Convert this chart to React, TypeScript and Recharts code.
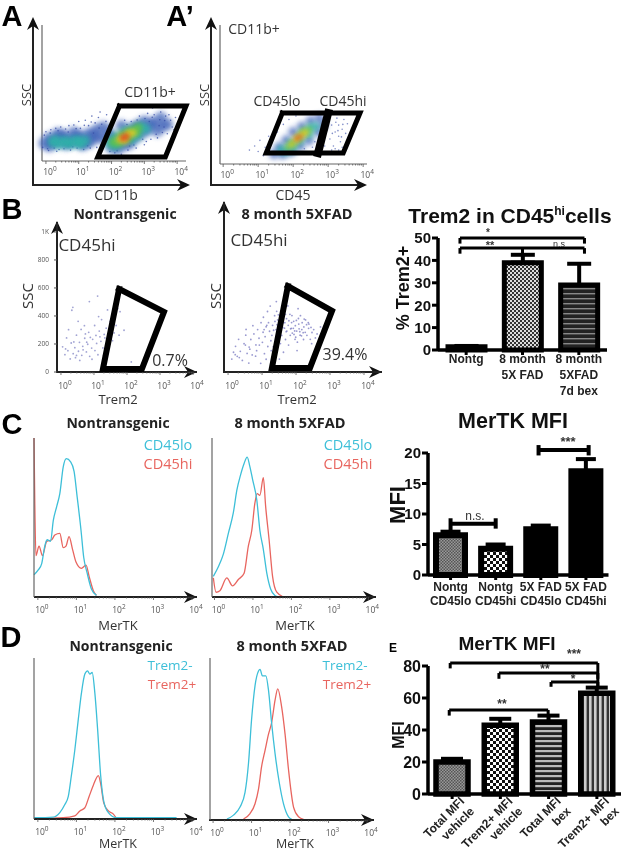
import React from 'react';
import { ComposedChart, ScatterChart, Scatter, Line, Bar, Cell, ErrorBar, XAxis, YAxis, ReferenceLine } from 'recharts';

const SANS = '"Liberation Sans", Arial, sans-serif';
const SOFT = '"Open Sans", sans-serif';
const CYAN = '#3dbfd8';
const RED = '#e8655f';

// flow axes are in decades (10^n), minor ticks included
const logTicks = [0, 0.3, 0.48, 0.6, 0.7, 0.78, 0.85, 0.9, 0.95, 1, 1.3, 1.48, 1.6, 1.7, 1.78, 1.85, 1.9, 1.95, 2, 2.3, 2.48, 2.6, 2.7, 2.78, 2.85, 2.9, 2.95, 3, 3.3, 3.48, 3.6, 3.7, 3.78, 3.85, 3.9, 3.95, 4];

// panel A
const aBase = [[-0.05,130],[0.1,170],[0.1,110],[0.35,150],[0.35,200],[0.6,125],[0.6,175],[0.85,150],[0.85,210],[1.1,120],[1.1,170],[1.3,200],[1.35,145],[1.55,175],[1.55,230],[1.75,170],[1.75,250],[1.9,210],[2,100],[2.2,90],[2.2,150],[2.4,120],[2.5,220],[2.7,170],[2.7,250],[2.9,200],[3,290],[3.1,230],[3.3,280],[3.4,220],[3.5,320],[3.7,270],[2,170],[2.3,260],[0.22,135],[0.48,190],[0.73,140],[0.97,185],[1.22,135],[1.45,190],[2.85,260],[3.2,270],[2.55,130],[3.55,260]];
const aTeal = [[0.2,140],[0.4,125],[0.55,145],[0.75,130],[0.9,150],[1.05,130],[1.2,150],[1.95,130],[2.1,115],[2.1,175],[2.3,140],[2.4,215],[2.6,160],[2.65,225],[2.8,190],[2.9,250],[3.05,235],[0.3,150],[0.65,135],[1,140]];
const aGreen = [[2.05,140],[2.2,135],[2.3,190],[2.5,170],[2.55,215],[2.75,215],[2.8,245]];
const aYellow = [[2.25,160],[2.4,150],[2.5,200],[2.65,205]];
const aRed = [[2.35,170],[2.45,180]];
const aSpeck = [[-0.1,100],[-0.05,190],[0,215],[0.05,90],[0.15,230],[0.25,95],[0.3,240],[0.4,85],[0.45,250],[0.55,90],[0.6,235],[0.7,260],[0.75,80],[0.85,265],[0.95,95],[1,290],[1.05,240],[1.15,85],[1.2,300],[1.3,260],[1.35,95],[1.4,330],[1.5,280],[1.55,100],[1.6,320],[1.65,360],[1.7,270],[1.75,130],[1.85,340],[1.45,205],[1.95,70],[2.1,60],[2.3,50],[2.5,80],[2.6,290],[2.75,95],[2.85,330],[3,120],[3.1,350],[3.2,160],[3.3,340],[3.4,170],[3.5,360],[3.55,210],[3.65,330],[3.7,200],[3.8,300],[3.85,250],[3.95,320],[3.9,230],[3.25,390],[2.4,300],[3.6,250],[3.75,340],[3.45,260],[3.15,290],[2.95,160],[2.55,110],[0.13,205],[0.37,222],[0.68,213],[0.92,238],[1.17,262],[1.38,287],[1.62,242],[1.83,291],[1.93,263],[0.08,77],[0.33,72],[0.82,104],[1.27,112],[1.68,117],[2.17,76],[2.68,118],[3.06,143],[3.36,197],[3.62,297],[3.24,322],[3.47,303],[3.02,312],[2.78,301],[2.47,268]];
const aGate = [[2.24,404],[4.27,404],[3.64,29],[1.58,29],[2.24,404]];

// panel A'
const primeBase = [[1.45,70],[1.6,120],[1.7,70],[1.8,170],[1.95,90],[2,230],[2.2,130],[2.25,270],[2.45,170],[2.5,310],[2.7,230],[2.75,330],[2.85,280]];
const primeTeal = [[1.65,105],[1.8,90],[1.95,150],[2,110],[2.2,165],[2.25,220],[2.45,210],[2.5,265],[2.65,270]];
const primeGreen = [[1.85,120],[2,150],[2.15,190],[2.3,235],[2.45,245]];
const primeYellow = [[1.95,140],[2.1,175],[2.25,210],[2.35,225]];
const primeRed = [[2.1,185],[2.2,195]];
const primeSpeck = [[0.9,130],[1,90],[1.05,170],[1.15,60],[1.2,120],[0.75,100],[1.3,200],[1.35,90],[3.05,180],[3.1,280],[3.15,130],[3.2,230],[3.25,330],[3.3,200],[3.3,280],[3.35,160],[3.4,250],[3.45,320],[3.5,220],[3.2,110],[3.4,120],[3.1,100],[3.55,290],[2.95,240],[2.9,130],[3,330],[3.15,370],[3.3,100],[3.28,240],[3.38,195],[3.22,300],[3.42,285],[3.12,220],[3.6,180],[1.42,190],[1.55,230],[1.72,285],[1.88,320],[2.08,345],[2.32,110],[2.55,120],[2.62,160],[2.85,200],[2.92,340]];
const primeGate = [[1.69,367],[3.91,367],[3.43,79],[1.23,79],[1.69,367]];
const primeSplit = [[3,367],[2.71,79]];

// panel B scatter
const bNonTg = [[0.05,180],[0.12,124],[0.17,243],[0.21,152],[0.28,93],[0.31,207],[0.37,131],[0.42,174],[0.44,102],[0.47,263],[0.53,148],[0.56,212],[0.63,119],[0.61,304],[0.66,183],[0.72,241],[0.77,143],[0.81,198],[0.84,283],[0.87,112],[0.93,171],[0.96,233],[1.02,332],[1.03,153],[1.06,261],[1.08,204],[1.12,123],[1.16,292],[1.21,219],[1.23,374],[1.27,172],[1.31,268],[1.33,243],[1.37,313],[1.42,201],[1.46,288],[1.52,262],[1.49,361],[1.56,224],[1.61,279],[1.58,423],[1.67,332],[0.33,441],[0.36,462],[0.86,503],[1.14,396],[1.41,443],[1.72,452],[1.79,431],[1.11,542],[0.52,362],[0.71,331],[0.23,302],[0.94,91],[1.29,118],[1.76,263],[1.91,298],[2.13,72],[0.57,83],[0.74,272],[0.14,165],[0.39,215],[0.67,158],[0.89,247],[1.18,251],[1.44,237],[0.47,118],[0.78,213]];
const bFad = [[0.11,92],[0.16,141],[0.22,183],[0.27,112],[0.31,233],[0.36,148],[0.42,83],[0.47,202],[0.52,263],[0.56,133],[0.53,304],[0.62,178],[0.67,232],[0.71,122],[0.73,331],[0.76,272],[0.82,193],[0.87,303],[0.84,152],[0.91,241],[0.97,352],[1.01,212],[1.03,284],[1.07,131],[1.04,391],[1.12,323],[1.09,252],[1.17,182],[1.16,432],[1.22,291],[1.19,352],[1.26,223],[1.24,471],[1.31,333],[1.29,262],[1.37,402],[1.33,181],[1.41,303],[1.38,361],[1.47,242],[1.43,433],[1.52,332],[1.49,283],[1.57,392],[1.54,203],[1.62,352],[1.58,261],[1.66,313],[1.64,462],[1.72,381],[1.69,232],[1.77,333],[1.73,292],[1.82,412],[1.78,192],[1.87,353],[1.83,262],[1.92,312],[1.88,403],[1.97,233],[1.93,362],[2.02,292],[1.98,331],[2.07,382],[2.04,213],[2.12,263],[2.08,342],[2.17,303],[2.13,402],[2.22,232],[2.18,352],[2.27,283],[2.23,322],[2.32,262],[2.28,372],[2.37,312],[2.42,233],[2.38,342],[2.47,282],[2.52,303],[2.57,243],[2.62,272],[1.27,152],[1.63,141],[2.03,153],[1.12,91],[0.96,62],[0.61,64],[1.51,92],[1.42,503],[1.76,472],[2.06,452],[2.46,202],[2.72,322],[1.32,123],[1.56,303],[1.86,312],[2.21,281],[1.67,352],[1.96,293],[1.46,372],[2.36,352],[1.14,333],[1.06,303],[0.92,192],[0.81,113],[0.64,163],[0.51,192],[0.33,103],[0.21,124],[1.34,298],[1.44,338],[1.53,258],[1.61,318],[1.71,288],[1.79,366],[1.84,308],[1.94,268],[2.01,368],[2.09,308],[2.16,258],[2.24,378],[2.31,338],[2.44,318],[1.48,408],[1.59,378],[1.69,412],[1.89,278],[1.99,248],[2.11,288]];
const bNonTgGate = [[1.76,593],[3.12,429],[2.45,21],[1.27,21],[1.76,593]];
const bFadGate = [[1.76,614],[3.06,436],[2.41,29],[1.29,29],[1.76,614]];

// panel C histograms
const cNonTgLo = [[-0.1,14],[0.01,17],[0.1,21],[0.18,32],[0.24,36],[0.33,35],[0.4,48],[0.49,57],[0.57,65],[0.66,82],[0.74,87],[0.85,85],[0.94,79],[1.02,63],[1.12,42],[1.19,25],[1.28,15],[1.39,5],[1.52,1]];
const cNonTgHi = [[-0.1,100],[-0.08,60],[-0.05,26],[0.03,32],[0.12,26],[0.23,35],[0.36,36],[0.44,39],[0.57,40],[0.66,31],[0.73,32],[0.81,38],[0.9,30],[0.99,22],[1.13,18],[1.25,20],[1.33,13],[1.44,4],[1.52,1]];
const cFadLo = [[-0.03,13],[0.1,19],[0.23,27],[0.36,40],[0.49,53],[0.58,67],[0.68,77],[0.77,84],[0.85,88],[0.92,82],[0.99,74],[1.1,61],[1.18,42],[1.27,30],[1.36,15],[1.46,5],[1.57,1],[1.66,0]];
const cFadHi = [[-0.03,12],[0.04,3],[0.14,4],[0.32,12],[0.47,7],[0.62,11],[0.77,15],[0.88,32],[0.97,42],[1.05,59],[1.11,65],[1.18,64],[1.27,75],[1.33,57],[1.42,36],[1.51,13],[1.62,3],[1.79,0]];

// panel D histograms
const dNonTgNeg = [[-0.1,0.8],[0.4,1.2],[0.57,4],[0.7,9],[0.79,14],[0.87,27],[0.96,43],[1.05,62],[1.13,78],[1.22,90],[1.29,92],[1.35,90],[1.41,91],[1.48,78],[1.55,56],[1.63,27],[1.71,11],[1.83,4],[2.04,0.8],[3.6,0.8]];
const dNonTgPos = [[-0.1,0.4],[0.66,0.8],[0.96,2],[1.09,5],[1.22,7],[1.33,14],[1.44,21],[1.57,27],[1.63,22],[1.71,10],[1.83,5],[1.96,3],[2.04,0.4]];
const dFadNeg = [[0.36,0.6],[0.53,3],[0.7,8],[0.83,17],[0.92,35],[1,62],[1.09,83],[1.18,92],[1.22,93],[1.28,89],[1.37,89],[1.44,80],[1.52,60],[1.61,41],[1.72,23],[1.83,10],[1.96,2],[2.04,0.6]];
const dFadPos = [[0.79,0.6],[0.96,4],[1.09,10],[1.18,19],[1.26,33],[1.35,43],[1.44,53],[1.52,60],[1.61,74],[1.68,81],[1.78,70],[1.87,53],[1.96,31],[2.09,8],[2.22,2],[2.35,0.4]];

// bar panels
const trem2Cats = ['Nontg', '8 month\n5X FAD', '8 month\n5XFAD\n7d bex'];
const trem2Vals = [1.5, 39, 29];
const trem2Errs = [0.3, 3.5, 9.5];
const trem2Fills = ['#111', 'url(#checkFine)', 'url(#stripeDark)'];
const trem2Ticks = [0, 10, 20, 30, 40, 50];
const trem2Brackets = [
  { a: 0.39, b: 2.6, y: 50, dropA: 47.5, dropB: 47.5 },
  { a: 0.39, b: 2.6, y: 45.5, dropA: 43, dropB: 43 },
  { a: 1.5, b: 1.5, y: 45.5, dropA: 42.5, dropB: 42.5 },
];

const merCats = ['Nontg\nCD45lo', 'Nontg\nCD45hi', '5X FAD\nCD45lo', '5X FAD\nCD45hi'];
const merVals = [6.5, 4.3, 7.5, 17];
const merErrs = [0.6, 0.7, 0.6, 2];
const merFills = ['url(#grayFine)', 'url(#checkLarge)', '#000', '#000'];
const merTicks = [0, 5, 10, 15, 20];
const merBrackets = [
  { a: 0.5, b: 1.5, y: 8.4, dropA: 7.3, dropB: 7.6, up: 9.3 },
  { a: 2.45, b: 3.56, y: 20.5, dropA: 19.6, dropB: 19.6, up: 21.3 },
];

const bexCats = ['Total MFI\nvehicle', 'Trem2+ MFI\nvehicle', 'Total MFI\nbex', 'Trem2+ MFI\nbex'];
const bexVals = [20, 43, 45, 63];
const bexErrs = [2, 4, 4, 3.5];
const bexFills = ['url(#grayFine)', 'url(#checkLarge)', 'url(#stripeH)', 'url(#stripeV)'];
const bexTicks = [0, 20, 40, 60, 80];
const bexBrackets = [
  { a: 0.46, b: 3.52, y: 81.9, dropA: 78.5, dropB: 66 },
  { a: 1.47, b: 3.52, y: 75.6, dropA: 72, dropB: 72 },
  { a: 2.55, b: 3.52, y: 70, dropA: 67, dropB: 67 },
  { a: 0.44, b: 2.49, y: 52.5, dropA: 49, dropB: 49 },
];

const pts = (list: number[][]) => list.map(([x, y]) => ({ x, y }));
// pos is the bar's slot centre, it only feeds the hidden axis the brackets use
const barRows = (cats: string[], vals: number[], errs: number[]) =>
  cats.map((name, i) => ({ name, pos: i + 0.5, value: vals[i], err: [0, errs[i]] }));

// plot rect in page pixels -> wrapper + chart props
const frame = (l: number, t: number, r: number, b: number) => ({
  wrap: { position: 'absolute' as const, left: l - 40, top: t - 12, width: r - l + 52, height: b - t + 62 },
  chart: { width: r - l + 52, height: b - t + 62, margin: { top: 12, right: 12, left: 0, bottom: 0 } },
});

const Txt = ({ x, y, size = 12, bold = false, color = '#333', font = SOFT, rotate = 0, children }: any) => (
  <div style={{ position: 'absolute', left: x, top: y, transform: `translate(-50%,-50%) rotate(${rotate}deg)`, fontSize: size, fontWeight: bold ? 700 : 400, color, fontFamily: font, whiteSpace: 'nowrap', lineHeight: 1 }}>
    {children}
  </div>
);

const logTick = (dx: number, dy: number) => ({ x, y, payload }: any) => {
  const major = Number.isInteger(payload.value);
  return (
    <g>
      <line x1={x} x2={x} y1={y} y2={y + (major ? 3 : 1.5)} stroke="#555" strokeWidth={0.8} />
      {major && (
        <text x={x + dx} y={y + dy} textAnchor="middle" fontSize={8.5} fill="#555" fontFamily={SOFT}>
          10<tspan dy={-4} fontSize={6.5}>{payload.value}</tspan>
        </text>
      )}
    </g>
  );
};

const barTick = (size: number, leading: number, first: number) => ({ x, y, payload }: any) => (
  <text x={x} y={y + first} textAnchor="middle" fontSize={size} fontWeight={700} fontFamily={SANS} fill="#222">
    {String(payload.value).split('\n').map((s, i) => (
      <tspan key={i} x={x} dy={i ? leading : 0}>{s}</tspan>
    ))}
  </text>
);

const slantTick = ({ x, y, payload }: any) => (
  <g transform={`translate(${x + 13},${y + 3}) rotate(-45)`}>
    {String(payload.value).split('\n').map((s, i) => (
      <text key={i} x={0} y={i * 14} textAnchor="end" fontSize={12} fontWeight={700} fontFamily={SANS} fill="#222">{s}</text>
    ))}
  </g>
);

const dot = (r: number, color: string, opacity = 1, soft = false) => (p: any) => (
  <circle cx={p.cx} cy={p.cy} r={r} fill={color} fillOpacity={opacity} filter={soft ? 'url(#soft)' : undefined} />
);

const Defs = () => (
  <defs>
    <filter id="soft" x="-150%" y="-150%" width="400%" height="400%">
      <feGaussianBlur stdDeviation="2.4" />
    </filter>
    <pattern id="checkFine" width="4" height="4" patternUnits="userSpaceOnUse">
      <rect width="4" height="4" fill="#ddd" />
      <rect width="2" height="2" fill="#333" />
      <rect x="2" y="2" width="2" height="2" fill="#333" />
    </pattern>
    <pattern id="checkLarge" width="6" height="6" patternUnits="userSpaceOnUse">
      <rect width="6" height="6" fill="#fff" />
      <rect width="3" height="3" fill="#111" />
      <rect x="3" y="3" width="3" height="3" fill="#111" />
    </pattern>
    <pattern id="grayFine" width="3" height="3" patternUnits="userSpaceOnUse">
      <rect width="3" height="3" fill="#999" />
      <rect width="1.5" height="1.5" fill="#555" />
      <rect x="1.5" y="1.5" width="1.5" height="1.5" fill="#555" />
    </pattern>
    <pattern id="stripeDark" width="5" height="5" patternUnits="userSpaceOnUse">
      <rect width="5" height="5" fill="#222" />
      <rect y="2" width="5" height="1.4" fill="#888" />
    </pattern>
    <pattern id="stripeH" width="5" height="5" patternUnits="userSpaceOnUse">
      <rect width="5" height="5" fill="#222" />
      <rect y="1" width="5" height="2.2" fill="#bbb" />
    </pattern>
    <pattern id="stripeV" width="5" height="5" patternUnits="userSpaceOnUse">
      <rect width="5" height="5" fill="#333" />
      <rect x="1" width="2.6" height="5" fill="#ccc" />
    </pattern>
  </defs>
);

const Arrow = ({ x1, y1, x2, y2 }: any) => {
  const len = Math.hypot(x2 - x1, y2 - y1);
  const ux = (x2 - x1) / len;
  const uy = (y2 - y1) / len;
  const p = (back: number, side: number) => `${x2 - ux * back - uy * side},${y2 - uy * back + ux * side}`;
  return (
    <g>
      <line x1={x1} y1={y1} x2={x2 - ux * 6} y2={y2 - uy * 6} stroke="#222" strokeWidth={2} />
      <polygon points={[p(0, 0), p(13, 6), p(9, 0), p(13, -6)].join(' ')} fill="#111" />
    </g>
  );
};

const bracketLines = (list: any[], width: number) =>
  list.flatMap((k, i) => {
    const top = k.up ?? k.y;
    return [
      <ReferenceLine key={`h${i}`} xAxisId="slots" ifOverflow="visible" stroke="#000" strokeWidth={width} segment={[{ x: k.a, y: k.y }, { x: k.b, y: k.y }]} />,
      <ReferenceLine key={`l${i}`} xAxisId="slots" ifOverflow="visible" stroke="#000" strokeWidth={width} segment={[{ x: k.a, y: top }, { x: k.a, y: k.dropA }]} />,
      <ReferenceLine key={`r${i}`} xAxisId="slots" ifOverflow="visible" stroke="#000" strokeWidth={width} segment={[{ x: k.b, y: top }, { x: k.b, y: k.dropB }]} />,
    ];
  });

const Flow = ({ rect, xDomain, yDomain, axisColor = '#666', axisWidth = 1.2, dy = 14, dx = 4, yTicks, children }: any) => {
  const f = frame(rect[0], rect[1], rect[2], rect[3]);
  return (
    <div style={f.wrap}>
      <ScatterChart {...f.chart}>
        <Defs />
        <XAxis type="number" dataKey="x" domain={xDomain} ticks={logTicks} interval={0} height={50} tickSize={0} tickMargin={0} tickLine={false} tick={logTick(dx, dy)} axisLine={{ stroke: axisColor, strokeWidth: axisWidth }} />
        <YAxis type="number" dataKey="y" domain={yDomain} width={40} ticks={yTicks} interval={0} tick={yTicks ? { fontSize: 6.5, fill: '#555', fontFamily: SOFT } : false} tickSize={3} tickMargin={5} tickLine={{ stroke: '#555' }} tickFormatter={(v: number) => (v === 1000 ? '1K' : String(v))} axisLine={{ stroke: axisColor, strokeWidth: axisWidth }} />
        {children}
      </ScatterChart>
    </div>
  );
};

const layer = (list: number[][], shape: any, key: string) => (
  <Scatter key={key} data={pts(list)} shape={shape} isAnimationActive={false} />
);

const gate = (list: number[][], width: number, key: string) => (
  <Scatter key={key} data={pts(list)} shape={() => null} line={{ stroke: '#000', strokeWidth: width, strokeLinecap: 'square', strokeLinejoin: 'miter' }} isAnimationActive={false} />
);

const Hist = ({ rect, xDomain, first, second, dx = 4 }: any) => {
  const f = frame(rect[0], rect[1], rect[2], rect[3]);
  return (
    <div style={f.wrap}>
      <ComposedChart {...f.chart}>
        <XAxis type="number" dataKey="x" domain={xDomain} ticks={logTicks} interval={0} height={50} tickSize={0} tickMargin={0} tickLine={false} tick={logTick(dx, 16)} axisLine={{ stroke: '#222', strokeWidth: 2 }} />
        <YAxis type="number" domain={[0, 100]} width={40} tick={false} tickLine={false} axisLine={{ stroke: '#666', strokeWidth: 1.2 }} />
        <Line data={pts(second)} dataKey="y" type="monotone" stroke={RED} strokeWidth={1.3} dot={false} isAnimationActive={false} />
        <Line data={pts(first)} dataKey="y" type="monotone" stroke={CYAN} strokeWidth={1.3} dot={false} isAnimationActive={false} />
      </ComposedChart>
    </div>
  );
};

const Bars = ({ rect, rows, fills, ticks, yMax, slots, barSize, strokeWidth, capWidth, brackets, bracketWidth, tick, xHeight, fontSize }: any) => {
  const f = frame(rect[0], rect[1], rect[2], rect[3]);
  const chart = { ...f.chart, height: rect[3] - rect[1] + 12 + xHeight };
  return (
    <div style={{ ...f.wrap, height: chart.height }}>
      <ComposedChart {...chart} data={rows} barCategoryGap={0}>
        <Defs />
        <XAxis dataKey="name" interval={0} height={xHeight} tick={tick} tickSize={5} tickMargin={0} tickLine={{ stroke: '#000', strokeWidth: 3 }} axisLine={{ stroke: '#000', strokeWidth: 3.5 }} />
        <XAxis xAxisId="slots" dataKey="pos" type="number" domain={[0, slots]} allowDataOverflow hide />
        <YAxis type="number" domain={[0, yMax]} ticks={ticks} interval={0} width={40} tickSize={6} tickMargin={1} tickLine={{ stroke: '#000', strokeWidth: 3 }} axisLine={{ stroke: '#000', strokeWidth: 3.5 }} tick={{ fontSize, fontWeight: 700, fill: '#111', fontFamily: SANS }} />
        <Bar dataKey="value" barSize={barSize} stroke="#000" strokeWidth={strokeWidth} isAnimationActive={false}>
          {rows.map((r: any, i: number) => <Cell key={r.name} fill={fills[i]} />)}
          <ErrorBar dataKey="err" width={capWidth} strokeWidth={4} stroke="#000" isAnimationActive={false} />
        </Bar>
        {bracketLines(brackets, bracketWidth)}
      </ComposedChart>
    </div>
  );
};

export default function App() {
  return (
    <div style={{ position: 'absolute', left: 0, top: 0, width: 624, height: 853, background: '#fff', overflow: 'hidden', filter: 'blur(0.5px)' }}>
      {/* thick arrows around the flow plots */}
      <svg width={624} height={853} style={{ position: 'absolute', left: 0, top: 0, pointerEvents: 'none' }}>
        <Arrow x1={33} y1={186} x2={33} y2={17} />
        <Arrow x1={32} y1={185} x2={190} y2={185} />
        <Arrow x1={211} y1={186} x2={211} y2={17} />
        <Arrow x1={210} y1={185} x2={367} y2={185} />
        <Arrow x1={57} y1={373} x2={57} y2={221} />
        <Arrow x1={56} y1={372} x2={197} y2={372} />
        <Arrow x1={224} y1={373} x2={224} y2={201} />
        <Arrow x1={223} y1={372} x2={382} y2={372} />
        <Arrow x1={34} y1={597} x2={197} y2={597} />
        <Arrow x1={212} y1={597} x2={376} y2={597} />
        <Arrow x1={34} y1={819} x2={197} y2={819} />
        <Arrow x1={209} y1={820} x2={374} y2={820} />
      </svg>
      {/* A */}
      <Flow rect={[42, 25, 186, 161]} xDomain={[-0.12, 4.24]} yDomain={[0, 1000]}>
        <Defs />
        {layer(aBase, dot(6, '#3f63b8', 0.7, true), 'b')}
        {layer(aSpeck, dot(0.8, '#3a4fa8', 0.8), 's')}
        {layer(aTeal, dot(5, '#2fb0a8', 0.85, true), 't')}
        {layer(aGreen, dot(4.5, '#5cc24a', 0.9, true), 'g')}
        {layer(aYellow, dot(3.5, '#f0d020', 0.95, true), 'y')}
        {layer(aRed, dot(3, '#ee3a1c', 1, true), 'r')}
        {gate(aGate, 5, 'gate')}
      </Flow>
      {/* A' */}
      <Flow rect={[220, 25, 367, 164]} xDomain={[-0.09, 4.11]} yDomain={[0, 1000]}>
        <Defs />
        {layer(primeBase, dot(5, '#3f63b8', 0.7, true), 'b')}
        {layer(primeSpeck, dot(0.8, '#4a5cb0', 0.7), 's')}
        {layer(primeTeal, dot(4, '#2fb0a8', 0.85, true), 't')}
        {layer(primeGreen, dot(3.5, '#5cc24a', 0.9, true), 'g')}
        {layer(primeYellow, dot(3, '#f0d020', 0.95, true), 'y')}
        {layer(primeRed, dot(2.5, '#ee5a1c', 1, true), 'r')}
        {gate(primeGate, 5, 'gate')}
        {gate(primeSplit, 8, 'split')}
      </Flow>
      {/* B scatter */}
      <Flow rect={[57, 222, 197, 372]} xDomain={[-0.12, 4.12]} yDomain={[0, 1071]} axisColor="#222" axisWidth={2} dy={17} yTicks={[0, 200, 400, 600, 800, 1000]}>
        {layer(bNonTg, dot(0.9, '#8a8cc8', 0.8), 'p')}
        {gate(bNonTgGate, 6, 'gate')}
      </Flow>
      <Flow rect={[224, 202, 382, 372]} xDomain={[-0.12, 4.53]} yDomain={[0, 1214]} axisColor="#222" axisWidth={2} dy={17}>
        {layer(bFad, dot(0.9, '#7f80c4', 0.8), 'p')}
        {gate(bFadGate, 6, 'gate')}
      </Flow>
      {/* C / D histograms */}
      <Hist rect={[34, 438, 197, 597]} xDomain={[-0.1, 4.13]} first={cNonTgLo} second={cNonTgHi} />
      <Hist rect={[212, 438, 376, 597]} xDomain={[-0.065, 4.2]} first={cFadLo} second={cFadHi} />
      <Hist rect={[34, 658, 197, 819]} xDomain={[-0.1, 4.13]} first={dNonTgNeg} second={dNonTgPos} />
      <Hist rect={[210, 658, 374, 820]} xDomain={[-0.08, 4.18]} first={dFadNeg} second={dFadPos} />
      {/* bars */}
      <Bars rect={[438, 238, 607, 350]} rows={barRows(trem2Cats, trem2Vals, trem2Errs)} fills={trem2Fills} ticks={trem2Ticks} yMax={50} slots={3} barSize={37} strokeWidth={5} capWidth={12} brackets={trem2Brackets} bracketWidth={3} tick={barTick(12, 16, 8)} xHeight={55} fontSize={15} />
      <Bars rect={[427.5, 453, 608, 575]} rows={barRows(merCats, merVals, merErrs)} fills={merFills} ticks={merTicks} yMax={20} slots={4} barSize={29} strokeWidth={6} capWidth={10} brackets={merBrackets} bracketWidth={4} tick={barTick(12, 14, 11)} xHeight={40} fontSize={15} />
      <Bars rect={[428, 666, 621, 794]} rows={barRows(bexCats, bexVals, bexErrs)} fills={bexFills} ticks={bexTicks} yMax={80} slots={4} barSize={32} strokeWidth={5.5} capWidth={11} brackets={bexBrackets} bracketWidth={3} tick={slantTick} xHeight={58} fontSize={16} />

      {/* panel letters */}
      <Txt x={12} y={16} size={29} bold font={SANS} color="#000">A</Txt>
      <Txt x={180} y={16} size={29} bold font={SANS} color="#000">A’</Txt>
      <Txt x={12} y={209} size={29} bold font={SANS} color="#000">B</Txt>
      <Txt x={12} y={424} size={29} bold font={SANS} color="#000">C</Txt>
      <Txt x={11} y={637} size={29} bold font={SANS} color="#000">D</Txt>
      <Txt x={393} y={648} size={12} bold font={SANS} color="#000">E</Txt>

      {/* A labels */}
      <Txt x={26} y={95} size={13} rotate={-90}>SSC</Txt>
      <Txt x={150} y={92} size={14}>CD11b+</Txt>
      <Txt x={116} y={195} size={14}>CD11b</Txt>
      <Txt x={204} y={95} size={13} rotate={-90}>SSC</Txt>
      <Txt x={254} y={29} size={14}>CD11b+</Txt>
      <Txt x={277} y={101} size={14}>CD45lo</Txt>
      <Txt x={343} y={101} size={14}>CD45hi</Txt>
      <Txt x={293} y={195} size={14}>CD45</Txt>

      {/* B labels */}
      <Txt x={125} y={214} size={14} bold color="#222">Nontransgenic</Txt>
      <Txt x={297} y={214} size={14.5} bold color="#222">8 month 5XFAD</Txt>
      <Txt x={87} y={244} size={17}>CD45hi</Txt>
      <Txt x={259} y={239} size={17}>CD45hi</Txt>
      <Txt x={27} y={296} size={15} rotate={-90}>SSC</Txt>
      <Txt x={215} y={296} size={15} rotate={-90}>SSC</Txt>
      <Txt x={170} y={360} size={16}>0.7%</Txt>
      <Txt x={345} y={354} size={16}>39.4%</Txt>
      <Txt x={118} y={399} size={13}>Trem2</Txt>
      <Txt x={297} y={399} size={13}>Trem2</Txt>
      <Txt x={510} y={215} size={21} bold font={SANS} color="#111">
        Trem2 in CD45<span style={{ fontSize: 12, position: 'relative', top: -8 }}>hi</span>cells
      </Txt>
      <Txt x={403} y={288} size={18} bold font={SANS} color="#111" rotate={-90}>% Trem2+</Txt>
      <Txt x={488} y={233} size={10} bold font={SANS}>*</Txt>
      <Txt x={490} y={245} size={11} bold font={SANS}>**</Txt>
      <Txt x={559} y={244} size={9} font={SANS}>n.s</Txt>

      {/* C labels */}
      <Txt x={118} y={423} size={14} bold color="#222">Nontransgenic</Txt>
      <Txt x={290} y={423} size={14.5} bold color="#222">8 month 5XFAD</Txt>
      <Txt x={168} y={445} size={14.5} color={CYAN}>CD45lo</Txt>
      <Txt x={168} y={464} size={14.5} color={RED}>CD45hi</Txt>
      <Txt x={348} y={445} size={14.5} color={CYAN}>CD45lo</Txt>
      <Txt x={348} y={464} size={14.5} color={RED}>CD45hi</Txt>
      <Txt x={118} y={625} size={13}>MerTK</Txt>
      <Txt x={295} y={625} size={13}>MerTK</Txt>
      <Txt x={513} y={422} size={21.5} bold font={SANS} color="#111">MerTK MFI</Txt>
      <Txt x={398} y={505} size={22} bold font={SANS} color="#111" rotate={-90}>MFI</Txt>
      <Txt x={475} y={516} size={12} font={SANS}>n.s.</Txt>
      <Txt x={568} y={441} size={13} bold font={SANS}>***</Txt>

      {/* D labels */}
      <Txt x={121} y={646} size={14} bold color="#222">Nontransgenic</Txt>
      <Txt x={292} y={646} size={14.5} bold color="#222">8 month 5XFAD</Txt>
      <Txt x={170} y={666} size={13.5} color={CYAN}>Trem2-</Txt>
      <Txt x={172} y={685} size={13.5} color={RED}>Trem2+</Txt>
      <Txt x={345} y={666} size={13.5} color={CYAN}>Trem2-</Txt>
      <Txt x={347} y={685} size={13.5} color={RED}>Trem2+</Txt>
      <Txt x={118} y={844} size={12.5}>MerTK</Txt>
      <Txt x={295} y={844} size={12.5}>MerTK</Txt>
      <Txt x={507} y={643} size={19} bold font={SANS} color="#111">MerTK MFI</Txt>
      <Txt x={399} y={735} size={16} bold font={SANS} color="#111" rotate={-90}>MFI</Txt>
      <Txt x={574} y={654} size={12} bold font={SANS}>***</Txt>
      <Txt x={545} y={669} size={12} bold font={SANS}>**</Txt>
      <Txt x={573} y={679} size={12} bold font={SANS}>*</Txt>
      <Txt x={502} y={704} size={12} bold font={SANS}>**</Txt>
    </div>
  );
}
